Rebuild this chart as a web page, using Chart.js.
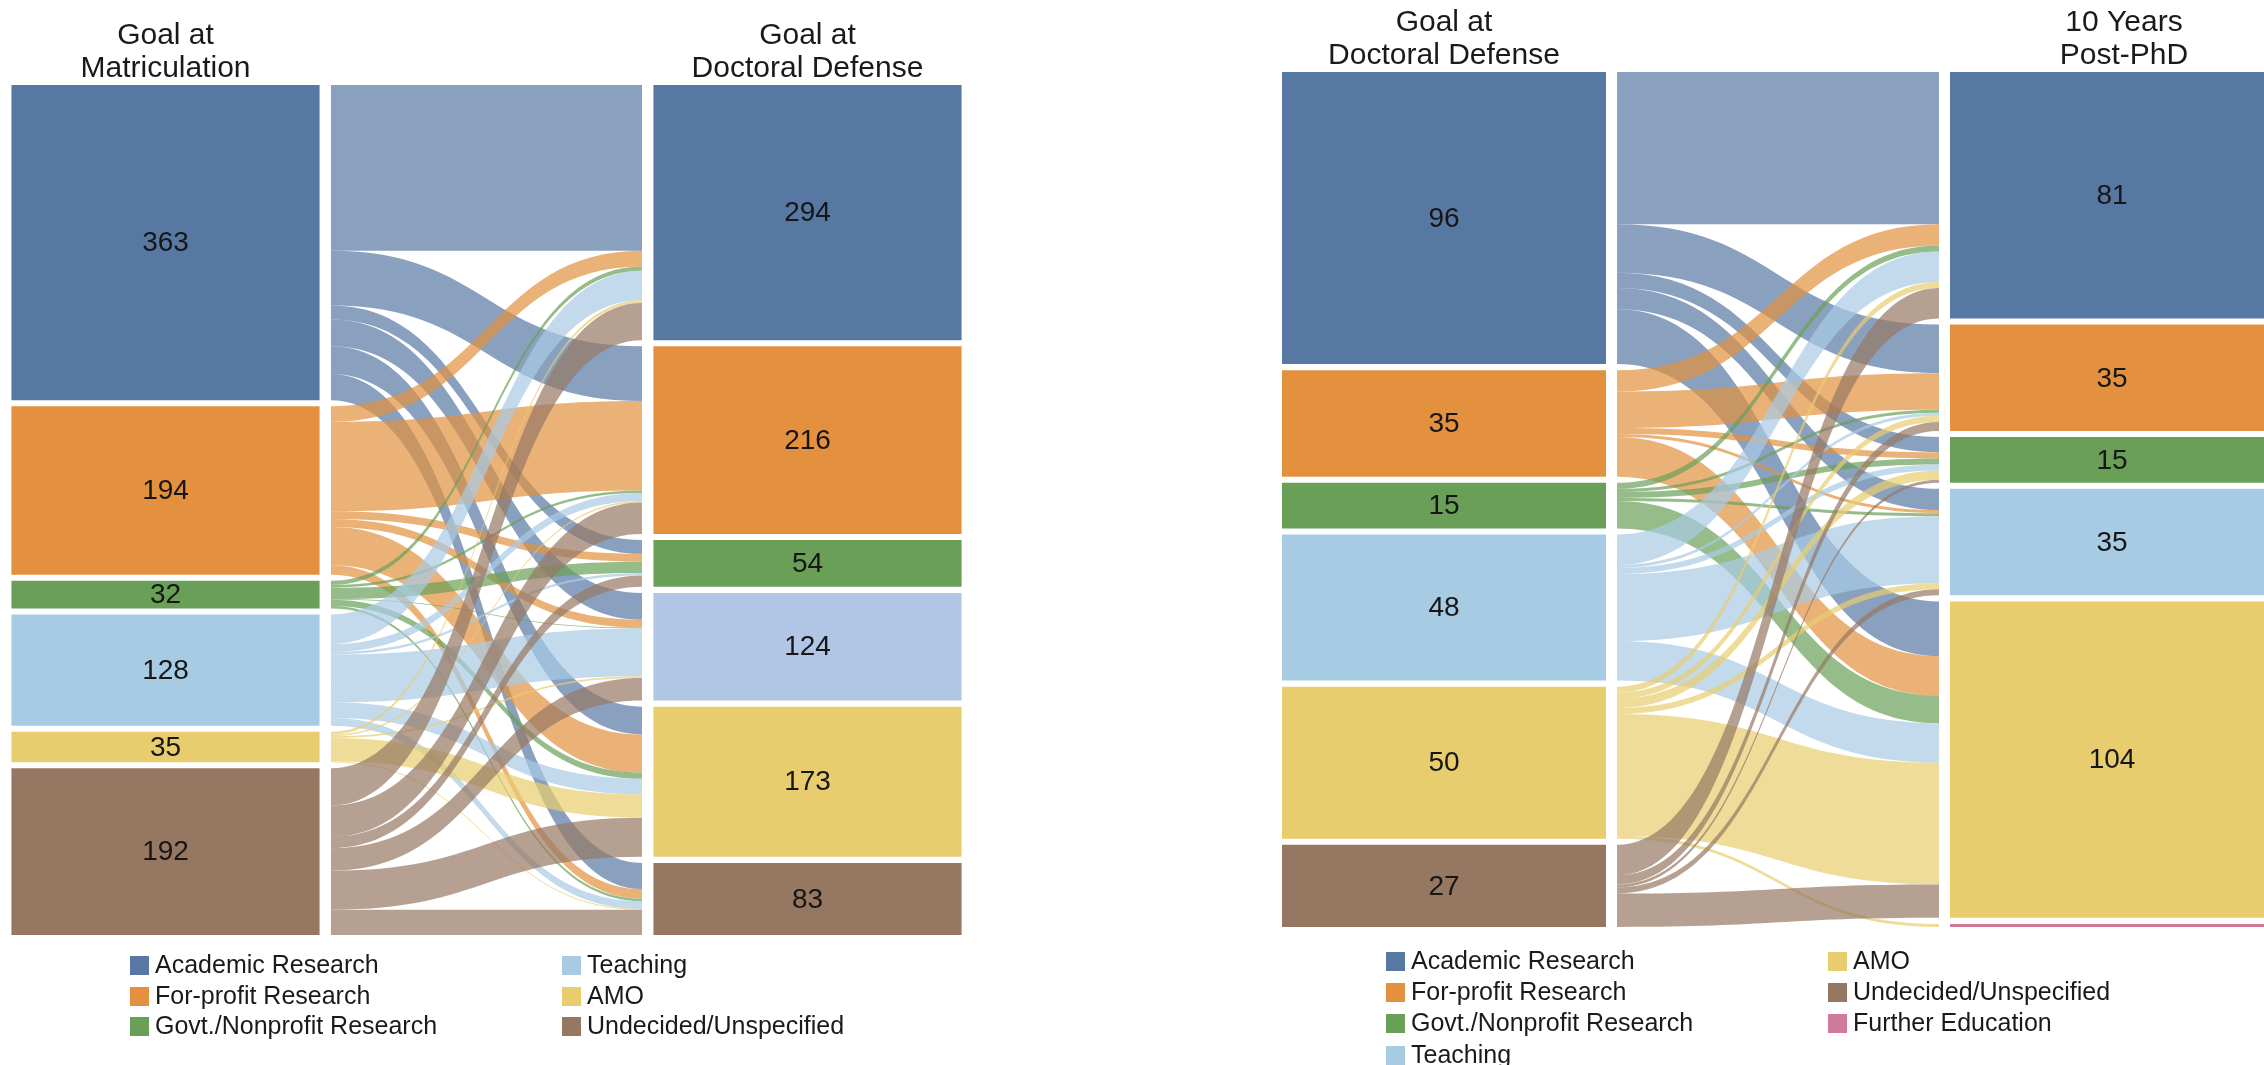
<!DOCTYPE html>
<html><head><meta charset="utf-8">
<script src="https://cdn.jsdelivr.net/npm/chart.js@4.4.1/dist/chart.umd.min.js"></script>
<style>
html,body{margin:0;padding:0;background:#fff;overflow:hidden;width:2264px;height:1065px;position:relative;}
canvas{position:absolute;top:0;}
#c1{left:0;} #c2{left:1270px;}
.item{position:absolute;white-space:nowrap;line-height:30px;height:30px;font-family:'Liberation Sans',Arial,sans-serif;font-size:25px;color:#1a1a1a;}
.sw{display:inline-block;width:19px;height:19px;margin-right:6px;vertical-align:-2px;}
</style></head><body>
<canvas id="c1" width="980" height="1065"></canvas>
<canvas id="c2" width="1020" height="1065"></canvas>
<div id="lg"></div>
<script>
// ---------- data ----------
const categories = ['Academic Research','For-profit Research','Govt./Nonprofit Research','Teaching','AMO','Undecided/Unspecified','Further Education'];
const categoryColors = ['#5878a4','#e3913f','#6a9f58','#a8cbe4','#e8cd6e','#967762','#cf7a9c'];

// Chart 1: matriculation -> doctoral defense
const matriculationValues = [363,194,32,128,35,192];
const defenseValues = [294,216,54,124,173,83];
const flowsMatriculationToDefense = [
  [191, 63, 16, 31, 32, 30],
  [ 18,103,  9,  9, 44, 11],
  [  5,  3, 13,  1,  7,  3],
  [ 34,  9,  3, 55, 18,  9],
  [  3,  2,  0,  2, 27,  1],
  [ 43, 36, 13, 26, 45, 29]
];
const titlesChart1 = [['Goal at','Matriculation'],['Goal at','Doctoral Defense']];

// Chart 2: doctoral defense -> 10 years post-PhD
const defenseValues2 = [96,35,15,48,50,27];
const postPhdValues = [81,35,15,35,104,0,1];
const flowsDefenseToPostPhd = [
  [50,16, 5, 7,18,0,0],
  [ 7,12, 2, 1,13,0,0],
  [ 2, 1, 2, 1, 9,0,0],
  [10, 1, 2,22,13,0,0],
  [ 2, 2, 3, 2,40,0,1],
  [10, 3, 1, 2,11,0,0]
];
const titlesChart2 = [['Goal at','Doctoral Defense'],['10 Years','Post-PhD']];

const legend1 = [0,1,2,3,4,5];
const legend2 = [0,1,2,3,4,5,6];

// ---------- helpers ----------
function hexA(hex, a){
  const n = parseInt(hex.slice(1),16);
  return 'rgba(' + ((n>>16)&255) + ',' + ((n>>8)&255) + ',' + (n&255) + ',' + a + ')';
}
function stackRanges(values, gap){
  let y = 0;
  return values.map(v => { if(!v || v <= 0) return null; const r = [y, y+v]; y += v + gap; return r; });
}
const FONT = "'Liberation Sans', Arial, sans-serif";

function buildSankey(id, o){
  const src = stackRanges(o.src, o.gap);
  const tgt = stackRanges(o.tgt, o.gap);
  const endOf = rs => Math.max.apply(null, rs.filter(Boolean).map(r => r[1]));
  const total = Math.max(endOf(src), endOf(tgt));
  const n = Math.max(o.src.length, o.tgt.length);
  const datasets = [];
  for (let k = 0; k < n; k++){
    const tc = (o.tgtColors && o.tgtColors[k]) || categoryColors[k];
    datasets.push({
      label: categories[k],
      data: [src[k] || null, null, tgt[k] || null],
      backgroundColor: [categoryColors[k], categoryColors[k], tc],
      borderWidth: 0,
      grouped: false,
      categoryPercentage: 1,
      barPercentage: o.barPct
    });
  }
  const flowPlugin = {
    id: 'flows',
    beforeDatasetsDraw(chart){
      const ctx = chart.ctx, xs = chart.scales.x, ys = chart.scales.y;
      const cw = xs.getPixelForValue(1) - xs.getPixelForValue(0);
      const xc = xs.getPixelForValue(1);
      const x0 = xc - cw*o.flowPct/2, x1 = xc + cw*o.flowPct/2, xm = (x0+x1)/2;
      const sOff = src.map(r => r ? r[0] : 0);
      const tOff = tgt.map(r => r ? r[0] : 0);
      ctx.save();
      for (let i = 0; i < o.flows.length; i++){
        for (let j = 0; j < o.flows[i].length; j++){
          const v = o.flows[i][j];
          if (!v) continue;
          const a0 = ys.getPixelForValue(sOff[i]), a1 = ys.getPixelForValue(sOff[i]+v);
          const b0 = ys.getPixelForValue(tOff[j]), b1 = ys.getPixelForValue(tOff[j]+v);
          sOff[i] += v; tOff[j] += v;
          ctx.beginPath();
          ctx.moveTo(x0, a0);
          ctx.bezierCurveTo(xm, a0, xm, b0, x1, b0);
          ctx.lineTo(x1, b1);
          ctx.bezierCurveTo(xm, b1, xm, a1, x0, a1);
          ctx.closePath();
          ctx.fillStyle = hexA(categoryColors[i], 0.7);
          ctx.fill();
        }
      }
      ctx.restore();
    }
  };
  const labelPlugin = {
    id: 'nodeLabels',
    afterDatasetsDraw(chart){
      const ctx = chart.ctx, xs = chart.scales.x;
      ctx.save();
      ctx.font = '28px ' + FONT;
      ctx.fillStyle = '#161616';
      ctx.textAlign = 'center';
      ctx.textBaseline = 'middle';
      [[0, o.src],[2, o.tgt]].forEach(([idx, vals]) => {
        vals.forEach((v, k) => {
          const el = chart.getDatasetMeta(k).data[idx];
          if (!el || !v) return;
          const h = Math.abs(el.base - el.y);
          if (h < 20) return;
          ctx.fillText(String(v), el.x, (el.y + el.base)/2 + 1);
        });
      });
      // column titles
      ctx.font = '30px ' + FONT;
      ctx.fillStyle = '#1a1a1a';
      const top = chart.chartArea.top;
      [[0, o.titles[0]],[2, o.titles[1]]].forEach(([idx, lines]) => {
        const x = xs.getPixelForValue(idx) + (idx === 2 ? (o.rightTitleShift || 0) : 0);
        ctx.fillText(lines[0], x, top - 49);
        ctx.fillText(lines[1], x, top - 16);
      });
      ctx.restore();
    }
  };
  return new Chart(document.getElementById(id), {
    type: 'bar',
    data: { labels: ['a','flow','b'], datasets },
    options: {
      responsive: false,
      animation: false,
      events: [],
      layout: { padding: o.padding },
      plugins: { legend: { display: false }, tooltip: { enabled: false }, title: { display: false } },
      scales: {
        x: { display: false, offset: true },
        y: { display: false, min: 0, max: total, reverse: true }
      }
    },
    plugins: [flowPlugin, labelPlugin]
  });
}

buildSankey('c1', {
  src: matriculationValues, tgt: defenseValues, flows: flowsMatriculationToDefense,
  titles: titlesChart1, gap: 7, barPct: 0.96, flowPct: 0.969,
  tgtColors: [null, null, null, '#b1c5e5', null, null],
  padding: { left: 5, right: 12, top: 85, bottom: 130 }
});
buildSankey('c2', {
  src: defenseValues2, tgt: postPhdValues, flows: flowsDefenseToPostPhd,
  titles: titlesChart2, gap: 2, barPct: 0.97, flowPct: 0.964, rightTitleShift: 12,
  padding: { left: 7, right: 11, top: 72, bottom: 138 }
});

// ---------- legends ----------
function legend(items, perCol, colX, rowY, rowStep){
  const root = document.getElementById('lg');
  items.forEach((k, n) => {
    const c = Math.floor(n / perCol), r = n % perCol;
    const d = document.createElement('div');
    d.className = 'item';
    d.style.left = colX[c] + 'px';
    d.style.top = (rowY + r*rowStep - 15) + 'px';
    const s = document.createElement('span');
    s.className = 'sw';
    s.style.background = categoryColors[k];
    d.appendChild(s);
    d.appendChild(document.createTextNode(categories[k]));
    root.appendChild(d);
  });
}
legend(legend1, 3, [130, 562], 964, 30.5);
legend(legend2, 4, [1386, 1828], 960, 31.2);
</script>
</body></html>
